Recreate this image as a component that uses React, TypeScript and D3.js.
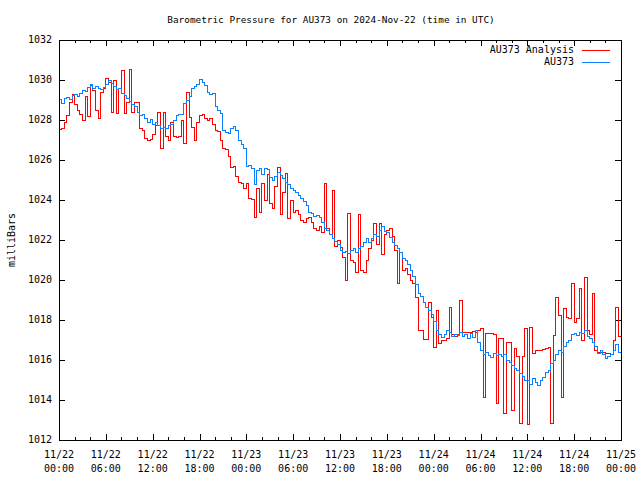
import React from "react";
import * as d3 from "d3";

// Time axis: 2024-11-22 00:00 UTC to 2024-11-25 00:00 UTC, samples every 20 minutes
const START_MS = Date.UTC(2024, 10, 22, 0, 0);
const END_MS = Date.UTC(2024, 10, 25, 0, 0);
const SAMPLE_MINUTES = 20;

const titleText = "Barometric Pressure for AU373 on 2024-Nov-22 (time in UTC)";
const yLabel = "milliBars";
const seriesNames = ["AU373 Analysis", "AU373"];
const seriesColors = ["#ff0000", "#0a80ff"];
const yDomain = [1012, 1032];
const yTicks = [1012, 1014, 1016, 1018, 1020, 1022, 1024, 1026, 1028, 1030, 1032];

// AU373 Analysis (red)
const analysisValues = [
  1027.55, 1027.6, 1027.9,
  1028.25, 1028.9, 1029.3,
  1028.8, 1028.5, 1028.3,
  1028.0, 1029.2, 1028.2,
  1029.75, 1029.5, 1028.5,
  1028.1, 1029.4, 1029.6,
  1030.1, 1029.9, 1028.4,
  1030.0, 1028.35, 1029.6,
  1030.5, 1028.35, 1028.9,
  1030.55, 1028.4, 1028.9,
  1028.9, 1027.6, 1027.5,
  1027.1, 1027.0, 1027.05,
  1027.3, 1027.75, 1028.4,
  1026.6, 1028.4, 1027.2,
  1027.0, 1027.9, 1027.2,
  1027.15, 1027.2, 1028.0,
  1026.85, 1029.4, 1028.15,
  1027.65, 1027.0, 1027.9,
  1028.25, 1028.3, 1028.1,
  1028.0, 1028.1, 1027.8,
  1027.5, 1027.45, 1027.0,
  1026.6, 1026.55, 1026.2,
  1025.65, 1025.7, 1025.2,
  1024.9, 1024.85, 1024.6,
  1024.85, 1024.1, 1024.05,
  1023.15, 1024.6, 1023.4,
  1024.85, 1024.0, 1025.3,
  1023.85, 1023.6, 1024.7,
  1025.65, 1023.3, 1024.4,
  1025.35, 1023.1, 1024.0,
  1023.4, 1023.5, 1023.3,
  1023.0, 1022.9, 1023.1,
  1023.15, 1022.9, 1022.6,
  1022.5, 1022.7, 1022.4,
  1024.85, 1022.6, 1022.3,
  1024.5, 1021.7, 1022.0,
  1021.65, 1021.15, 1020.0,
  1023.35, 1021.0, 1020.9,
  1020.4, 1023.3, 1020.5,
  1020.4, 1021.0, 1021.6,
  1022.0, 1022.85, 1021.8,
  1022.85, 1021.3, 1022.3,
  1022.5, 1022.6, 1022.2,
  1021.5, 1019.85, 1021.4,
  1020.5, 1020.6, 1020.3,
  1020.0, 1019.85, 1019.15,
  1017.5, 1017.5, 1017.05,
  1017.05, 1018.9, 1018.15,
  1016.65, 1018.5, 1016.85,
  1017.0, 1017.0, 1017.1,
  1018.65, 1017.3, 1017.2,
  1017.3, 1019.0, 1017.4,
  1017.4, 1017.4, 1017.4,
  1017.45, 1017.4, 1017.5,
  1017.6, 1014.15, 1017.35,
  1017.35, 1017.35, 1017.3,
  1013.85, 1017.1, 1017.1,
  1013.35, 1016.9, 1016.9,
  1013.5, 1016.6, 1016.2,
  1012.85, 1016.2, 1017.6,
  1012.8, 1017.65, 1016.35,
  1016.5, 1016.5, 1016.5,
  1016.55, 1016.6, 1016.65,
  1012.85, 1017.25, 1019.15,
  1018.25, 1014.15, 1018.6,
  1018.15, 1018.1, 1019.85,
  1017.9, 1018.1, 1019.6,
  1017.0, 1020.15, 1017.5,
  1017.3, 1019.35, 1016.5,
  1016.4, 1016.4, 1016.4,
  1016.35, 1016.35, 1016.3,
  1017.0, 1018.65, 1017.2,
  1018.65,
];

// AU373 station (blue)
const stationValues = [
  1029.05, 1028.85, 1029.1,
  1029.15, 1029.05, 1029.25,
  1029.3, 1029.2, 1029.35,
  1029.5, 1029.45, 1029.65,
  1029.8, 1029.6, 1029.7,
  1029.6, 1029.55, 1029.65,
  1029.8, 1030.0, 1029.85,
  1029.7, 1029.55, 1029.6,
  1029.35, 1029.25, 1029.1,
  1028.95, 1028.8, 1028.7,
  1028.4, 1028.25, 1028.3,
  1028.1, 1027.9, 1028.05,
  1027.8, 1027.9, 1027.75,
  1027.6, 1027.65, 1027.6,
  1027.75, 1027.8, 1028.0,
  1028.25, 1028.3, 1028.3,
  1028.85, 1029.0, 1029.2,
  1029.6, 1029.7, 1029.8,
  1030.05, 1029.9, 1029.75,
  1029.4, 1029.3, 1029.35,
  1028.7, 1028.5, 1028.35,
  1027.5, 1027.4, 1027.35,
  1027.6, 1027.7, 1027.5,
  1027.0, 1026.8, 1026.6,
  1025.7, 1025.75, 1025.6,
  1024.8, 1025.5, 1025.6,
  1025.3, 1025.6, 1025.55,
  1025.15, 1025.0, 1025.2,
  1025.4, 1025.25, 1025.1,
  1024.9, 1024.8, 1024.6,
  1024.5, 1024.4, 1024.25,
  1024.1, 1023.95, 1023.75,
  1023.4, 1023.35, 1023.2,
  1023.25, 1023.15, 1022.9,
  1022.6, 1022.5, 1022.3,
  1022.1, 1021.95, 1021.8,
  1021.5, 1021.4, 1021.45,
  1021.35, 1021.5, 1021.6,
  1021.4, 1021.6, 1021.7,
  1021.9, 1022.1, 1021.9,
  1022.1, 1022.3, 1022.2,
  1022.5, 1022.7, 1022.45,
  1022.4, 1022.15, 1021.9,
  1021.75, 1021.6, 1021.4,
  1021.1, 1021.0, 1020.8,
  1020.5, 1020.2, 1019.8,
  1019.35, 1019.2, 1018.9,
  1018.65, 1018.5, 1018.3,
  1017.95, 1017.5, 1017.3,
  1017.15, 1017.3, 1017.5,
  1017.4, 1017.2, 1017.3,
  1017.25, 1017.4, 1017.2,
  1017.3, 1017.1, 1017.35,
  1017.15, 1017.5, 1016.9,
  1016.5, 1016.3, 1016.4,
  1016.25, 1016.15, 1016.35,
  1016.25, 1016.3, 1016.2,
  1016.3, 1016.0, 1015.9,
  1015.75, 1015.6, 1015.5,
  1015.35, 1015.2, 1015.0,
  1015.0, 1014.8, 1015.1,
  1014.9, 1014.75, 1015.0,
  1015.15, 1015.4, 1015.5,
  1015.85, 1016.0, 1016.3,
  1016.5, 1016.4, 1016.7,
  1016.9, 1017.0, 1017.3,
  1017.35, 1017.25, 1017.4,
  1017.35, 1017.5, 1017.2,
  1017.1, 1016.9, 1016.7,
  1016.35, 1016.5, 1016.3,
  1016.1, 1016.2, 1016.3,
  1016.5, 1016.8, 1016.4,
  1016.15,
];

const FONT = "'DejaVu Sans Mono', 'Liberation Mono', monospace";

export default function App() {
  const W = 640;
  const H = 480;
  const left = 59;
  const right = 621;
  const top = 40;
  const bottom = 440;

  const x = d3.scaleUtc().domain([new Date(START_MS), new Date(END_MS)]).range([left, right]);
  const y = d3.scaleLinear().domain(yDomain).range([bottom, top]);

  const toPoints = (vals: number[]) =>
    vals.map((v, i) => [new Date(START_MS + i * SAMPLE_MINUTES * 60000), v] as [Date, number]);

  const line = d3
    .line<[Date, number]>()
    .x((d) => x(d[0]))
    .y((d) => y(d[1]))
    .curve(d3.curveStepAfter);

  const majorTicks = d3.utcHour.every(6)!.range(new Date(START_MS), new Date(END_MS + 1));
  const minorTicks = d3
    .utcHour.every(2)!
    .range(new Date(START_MS), new Date(END_MS + 1))
    .filter((d) => d.getUTCHours() % 6 !== 0);
  const fmtDate = d3.utcFormat("%m/%d");
  const fmtTime = d3.utcFormat("%H:%M");

  const px = (v: number) => Math.round(v) + 0.5;

  const series = [analysisValues, stationValues];

  return (
    <svg
      width={W}
      height={H}
      style={{ position: "absolute", left: 0, top: 0, background: "#fff" }}
      fontFamily={FONT}
      fontSize={10}
    >
      <rect x={0} y={0} width={W} height={H} fill="#fff" />
      <text x={331} y={20} textAnchor="middle" dominantBaseline="middle" fill="#000" fontSize={9.4}>
        {titleText}
      </text>
      <text
        transform={`translate(12,${(top + bottom) / 2}) rotate(-90)`}
        textAnchor="middle"
        dominantBaseline="middle"
        fill="#000"
      >
        {yLabel}
      </text>

      {/* y ticks */}
      {yTicks.map((t) => (
        <g key={"y" + t}>
          <line x1={left} x2={left + 6} y1={px(y(t))} y2={px(y(t))} stroke="#000" shapeRendering="crispEdges" />
          <line x1={right - 6} x2={right} y1={px(y(t))} y2={px(y(t))} stroke="#000" shapeRendering="crispEdges" />
          <text x={52} y={y(t)} textAnchor="end" dominantBaseline="middle" fill="#000">
            {t}
          </text>
        </g>
      ))}

      {/* x ticks */}
      {majorTicks.map((t) => (
        <g key={"xm" + t.getTime()}>
          <line x1={px(x(t))} x2={px(x(t))} y1={bottom} y2={bottom - 6} stroke="#000" shapeRendering="crispEdges" />
          <line x1={px(x(t))} x2={px(x(t))} y1={top} y2={top + 6} stroke="#000" shapeRendering="crispEdges" />
          <text x={x(t)} y={455} textAnchor="middle" dominantBaseline="middle" fill="#000">
            {fmtDate(t)}
          </text>
          <text x={x(t)} y={469} textAnchor="middle" dominantBaseline="middle" fill="#000">
            {fmtTime(t)}
          </text>
        </g>
      ))}
      {minorTicks.map((t) => (
        <g key={"xn" + t.getTime()}>
          <line x1={px(x(t))} x2={px(x(t))} y1={bottom} y2={bottom - 3} stroke="#000" shapeRendering="crispEdges" />
          <line x1={px(x(t))} x2={px(x(t))} y1={top} y2={top + 3} stroke="#000" shapeRendering="crispEdges" />
        </g>
      ))}

      {/* series */}
      {series.map((vals, i) => (
        <path
          key={"s" + i}
          d={line(toPoints(vals)) || ""}
          fill="none"
          stroke={seriesColors[i]}
          strokeWidth={1}
          shapeRendering="crispEdges"
        />
      ))}

      {/* border */}
      <rect
        x={left + 0.5}
        y={top + 0.5}
        width={right - left}
        height={bottom - top}
        fill="none"
        stroke="#000"
        shapeRendering="crispEdges"
      />

      {/* legend */}
      {seriesNames.map((name, i) => (
        <g key={"l" + i}>
          <text x={574} y={50 + i * 12} textAnchor="end" dominantBaseline="middle" fill="#000">
            {name}
          </text>
          <line
            x1={582}
            x2={610}
            y1={50.5 + i * 12}
            y2={50.5 + i * 12}
            stroke={seriesColors[i]}
            shapeRendering="crispEdges"
          />
        </g>
      ))}
    </svg>
  );
}
